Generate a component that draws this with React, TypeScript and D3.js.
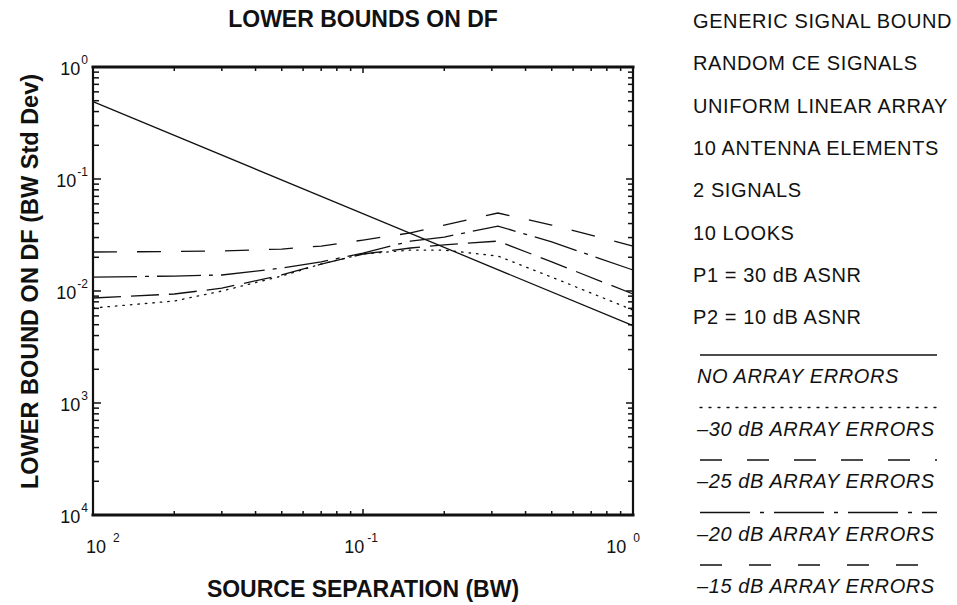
import React from "react";
import * as d3 from "d3";

// ---- data ----
const xSep = [0.01, 0.02, 0.03, 0.05, 0.07, 0.1, 0.15, 0.2, 0.316, 0.5, 1.0];
const xNoErr = [0.01, 1.0];
const noErrors = [0.49, 0.0049];
const err30 = [0.00705, 0.00814, 0.01, 0.0136, 0.0174, 0.0214, 0.0232, 0.0232, 0.0205, 0.0133, 0.00676];
const err25 = [0.00866, 0.0094, 0.0106, 0.0139, 0.0174, 0.0214, 0.0242, 0.0258, 0.0279, 0.0182, 0.0094];
const err20 = [0.0133, 0.0136, 0.0139, 0.016, 0.0182, 0.0218, 0.0279, 0.0303, 0.038, 0.0274, 0.0154];
const err15 = [0.0223, 0.0225, 0.0228, 0.0237, 0.0252, 0.0285, 0.033, 0.0388, 0.0497, 0.0388, 0.0252];

const seriesNames = ["NO ARRAY ERRORS", "\u201330 dB ARRAY ERRORS", "\u201325 dB ARRAY ERRORS", "\u201320 dB ARRAY ERRORS", "\u201315 dB ARRAY ERRORS"];
const infoLines = ["GENERIC SIGNAL BOUND", "RANDOM CE SIGNALS", "UNIFORM LINEAR ARRAY", "10 ANTENNA ELEMENTS", "2 SIGNALS", "10 LOOKS", "P1 = 30 dB ASNR", "P2 = 10 dB ASNR"];

const yTickValues = [1, 0.1, 0.01, 0.001, 0.0001];
const yTickSup = ["0", "-1", "-2", "3", "4"];
const xTickValues = [0.01, 0.1, 1];
const xTickSup = ["2", "-1", "0"];

const title = "LOWER BOUNDS ON DF";
const xTitle = "SOURCE SEPARATION (BW)";
const yTitle = "LOWER BOUND ON DF (BW Std Dev)";

// ---- styles ----
const plotDash = ["", "1.5,6", "28,10", "44,8,4,8", "24,20"];
const legendDash = ["", "2,7", "22,25", "50,10,4,10", "22,27"];
const FONT = "'Liberation Sans', Arial, Helvetica, sans-serif";
const INK = "#111";

export default function App() {
  const W = 957, H = 605;
  const L = 93, R = 633, T = 67, B = 515;
  const x = d3.scaleLog().domain([0.01, 1]).range([L, R]);
  const y = d3.scaleLog().domain([1e-4, 1]).range([B, T]);

  const series: { xs: number[]; ys: number[] }[] = [
    { xs: xNoErr, ys: noErrors },
    { xs: xSep, ys: err30 },
    { xs: xSep, ys: err25 },
    { xs: xSep, ys: err20 },
    { xs: xSep, ys: err15 },
  ];

  const line = d3
    .line<[number, number]>()
    .x((d) => x(d[0]))
    .y((d) => y(d[1]));

  const xMinor = x.ticks();
  const yMinor = y.ticks();
  const isMajor = (v: number) => Math.abs(Math.log10(v) - Math.round(Math.log10(v))) < 1e-6;

  const legendX0 = 700, legendX1 = 937;
  const infoY0 = 28, infoStep = 42.3;
  const lineY0 = 355, lineStep = 52.5;

  // x tick label: "10" + superscript, centred on the tick but kept inside the frame span
  const baseW = 21, supGap = 3;
  const supW = (s: string) => s.length * 6.7;

  return (
    <svg width={W} height={H} style={{ position: "absolute", left: 0, top: 0, background: "#fff" }} fontFamily={FONT}>
      <rect x={0} y={0} width={W} height={H} fill="#fff" />
      {/* title */}
      <text x={(L + R) / 2} y={27} textAnchor="middle" fontSize={23} fontWeight="bold" fill={INK}>
        {title}
      </text>

      {/* series */}
      <g fill="none" stroke={INK} strokeWidth={1.3}>
        {series.map((s, i) => (
          <path
            key={i}
            d={line(s.xs.map((v, j) => [v, s.ys[j]] as [number, number])) || ""}
            strokeDasharray={plotDash[i] || undefined}
            strokeLinecap={i === 1 ? "round" : "butt"}
          />
        ))}
      </g>

      {/* ticks */}
      <g stroke={INK} strokeWidth={1.5}>
        {yMinor.map((v, i) => {
          const len = isMajor(v) ? 8 : 6;
          return (
            <g key={"y" + i}>
              <line x1={L} x2={L + len} y1={y(v)} y2={y(v)} />
              <line x1={R} x2={R - len + 1} y1={y(v)} y2={y(v)} />
            </g>
          );
        })}
        {xMinor.map((v, i) => {
          const len = isMajor(v) ? 6 : 4;
          return (
            <g key={"x" + i}>
              <line x1={x(v)} x2={x(v)} y1={B} y2={B - len} />
              <line x1={x(v)} x2={x(v)} y1={T} y2={T + len} />
            </g>
          );
        })}
      </g>

      {/* frame */}
      <g stroke={INK} fill="none" strokeLinecap="square">
        <line x1={L} x2={R} y1={T} y2={T} strokeWidth={3} />
        <line x1={L} x2={R} y1={B} y2={B} strokeWidth={3} />
        <line x1={L} x2={L} y1={T} y2={B} strokeWidth={2.2} />
        <line x1={R} x2={R} y1={T} y2={B} strokeWidth={2.2} />
      </g>

      {/* y tick labels */}
      {yTickValues.map((v, i) => (
        <text key={"yl" + i} x={L - 5} y={y(v) + 8} textAnchor="end" fontSize={18} fill={INK}>
          10
          <tspan dx={1} dy={-11} fontSize={12}>{yTickSup[i]}</tspan>
        </text>
      ))}
      {/* x tick labels */}
      {xTickValues.map((v, i) => {
        const w = baseW + supGap + supW(xTickSup[i]);
        const x0 = Math.min(Math.max(x(v) - w / 2, L - 7), R + 4 - w);
        return (
          <text key={"xl" + i} x={x0} y={B + 38} textAnchor="start" fontSize={18} fill={INK}>
            10
            <tspan dx={supGap + (xTickSup[i].length > 1 ? 0 : 4)} dy={-11} fontSize={12}>{xTickSup[i]}</tspan>
          </text>
        );
      })}

      {/* axis titles */}
      <text x={(L + R) / 2} y={597} textAnchor="middle" fontSize={23} fontWeight="bold" fill={INK}>
        {xTitle}
      </text>
      <text transform={`translate(38, ${(73 + 490) / 2}) rotate(-90)`} textAnchor="middle" fontSize={23.5} fontWeight="bold" fill={INK}>
        {yTitle}
      </text>

      {/* legend info */}
      {infoLines.map((t, i) => (
        <text key={"info" + i} x={693} y={infoY0 + infoStep * i} fontSize={20} letterSpacing={0.6} fill={INK}>
          {t}
        </text>
      ))}
      {/* legend series */}
      {seriesNames.map((t, i) => {
        const ly = lineY0 + lineStep * i;
        return (
          <g key={"leg" + i}>
            <line
              x1={legendX0}
              x2={legendX1}
              y1={ly}
              y2={ly}
              stroke={INK}
              strokeWidth={1.3}
              strokeDasharray={legendDash[i] || undefined}
              strokeLinecap={i === 1 ? "round" : "butt"}
            />
            <text x={697} y={ly + 28} fontSize={20} fontStyle="italic" letterSpacing={0.6} fill={INK}>
              {t}
            </text>
          </g>
        );
      })}
    </svg>
  );
}
